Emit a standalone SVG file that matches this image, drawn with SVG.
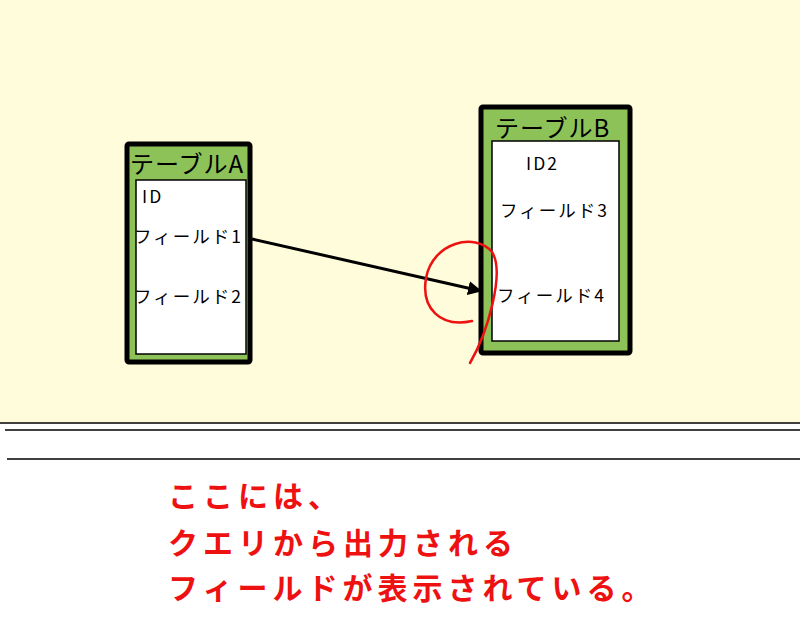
<svg xmlns="http://www.w3.org/2000/svg" width="800" height="640" viewBox="0 0 800 640">
<style>
.outer{fill:#8cc257;stroke:#000;stroke-width:5}
.inner{fill:#fff;stroke:#000;stroke-width:1.5}
.title{font-family:"Noto Sans CJK JP","Noto Sans",sans-serif;font-size:24px;fill:#000;letter-spacing:1px}
.fld{font-family:"Noto Sans CJK JP","Noto Sans",sans-serif;font-size:17.5px;fill:#000;letter-spacing:2px}
.note{font-family:"Noto Sans CJK JP",sans-serif;font-size:30px;font-weight:bold;fill:#ee1111;letter-spacing:5px}
</style>
<defs>
<marker id="ah" markerWidth="14" markerHeight="14" refX="13" refY="7" orient="auto" markerUnits="userSpaceOnUse" viewBox="0 0 14 14">
<path d="M0,0 L14,7 L0,14 z" fill="#000"/>
</marker>
</defs>
<rect x="0" y="0" width="800" height="423" fill="#fefcda"/>
<rect x="0" y="423" width="800" height="217" fill="#fff"/>
<line x1="0" y1="423" x2="800" y2="423" stroke="#000" stroke-width="1.5"/>
<line x1="5" y1="430" x2="800" y2="430" stroke="#000" stroke-width="1.3"/>
<line x1="7" y1="459" x2="800" y2="459" stroke="#000" stroke-width="1.3"/>
<g id="tableA">
<rect class="outer" x="127" y="144" width="123" height="218" rx="2"/>
<rect class="inner" x="136" y="180" width="110" height="174"/>
<text class="title" x="130" y="173">テーブルA</text>
<text class="fld" x="142" y="203" font-size="20" letter-spacing="0">ID</text>
<text class="fld" x="134" y="243">フィールド1</text>
<text class="fld" x="134" y="303">フィールド2</text>
</g>
<g id="tableB">
<rect class="outer" x="481" y="107" width="149" height="246" rx="2"/>
<rect class="inner" x="492" y="141" width="127" height="200"/>
<text class="title" x="495" y="137">テーブルB</text>
<text class="fld" x="526" y="170" font-size="19" letter-spacing="0">ID2</text>
<text class="fld" x="500" y="217">フィールド3</text>
<text class="fld" x="497" y="302">フィールド4</text>
</g>
<g id="connectors">
<line x1="252" y1="239" x2="481" y2="291" stroke="#000" stroke-width="3" marker-end="url(#ah)"/>
</g>
<path d="M470,363 C488,332 505,272 492,252 C475,232 433,242 426,278 C421,308 440,328 472,321" fill="none" stroke="#ee1111" stroke-width="2.5" stroke-linecap="round"/>
<text class="note" x="168" y="507">ここには、</text>
<text class="note" x="168" y="554">クエリから出力される</text>
<text class="note" x="168" y="599">フィールドが表示されている。</text>
</svg>
